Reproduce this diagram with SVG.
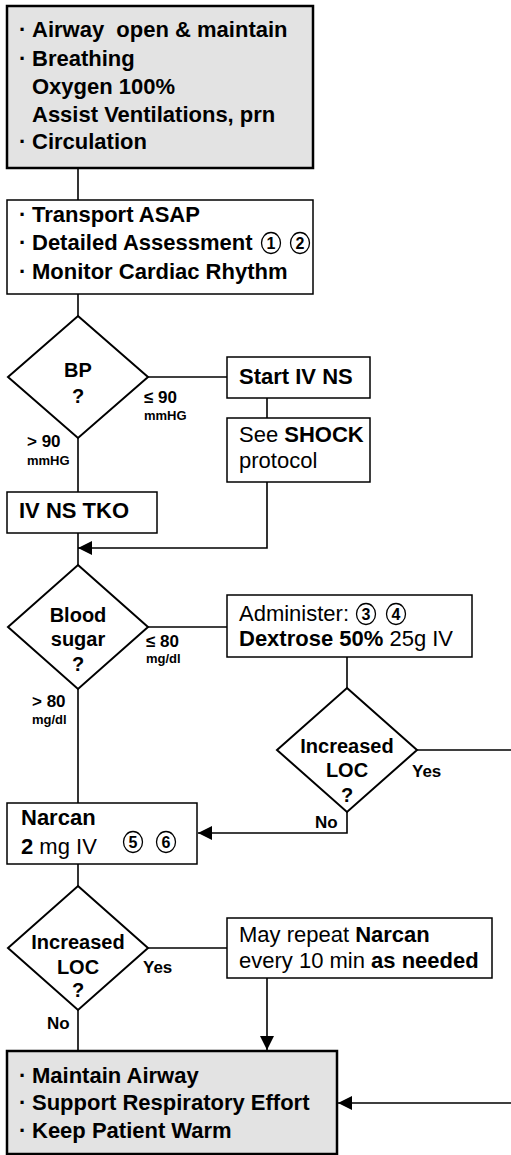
<svg xmlns="http://www.w3.org/2000/svg" width="511" height="1155" viewBox="0 0 511 1155">
<defs>
<marker id="arr" markerUnits="userSpaceOnUse" markerWidth="15" markerHeight="14" refX="14" refY="7" orient="auto">
<path d="M0,0 L14,7 L0,14 z" fill="#000"/>
</marker>
<style>
text{font-family:"Liberation Sans",Arial,sans-serif;fill:#000}
.b{font-weight:bold;font-size:22px}
.r{font-size:22px}
.d{font-weight:bold;font-size:20px;text-anchor:middle}
.l{font-weight:bold;font-size:17px}
.s{font-weight:bold;font-size:13px}
.n{font-weight:bold;font-size:16px;text-anchor:middle}
.gray{fill:#e3e3e3;stroke:#000;stroke-width:2.5}
.box{fill:#fff;stroke:#000;stroke-width:1.5}
.dia{fill:#fff;stroke:#000;stroke-width:2}
.c{fill:#fff;stroke:#000;stroke-width:1.3}
#connectors path,#connectors line{fill:none;stroke:#000;stroke-width:1.6}
</style>
</defs>

<g id="connectors">
<line x1="78" y1="168" x2="78" y2="200"/>
<line x1="78" y1="294" x2="78" y2="316"/>
<line x1="148" y1="377" x2="227" y2="377"/>
<line x1="267" y1="398" x2="267" y2="418"/>
<line x1="78" y1="438" x2="78" y2="492"/>
<line x1="78" y1="533" x2="78" y2="565"/>
<path d="M267,482 V548 H78" marker-end="url(#arr)"/>
<line x1="148" y1="627" x2="227" y2="627"/>
<line x1="347" y1="657" x2="347" y2="688"/>
<line x1="78" y1="689" x2="78" y2="803"/>
<path d="M347,812 V833 H198" marker-end="url(#arr)"/>
<path d="M417,750 H516 V1103 H338" marker-end="url(#arr)"/>
<line x1="78" y1="864" x2="78" y2="886"/>
<line x1="148" y1="948" x2="227" y2="948"/>
<path d="M267,978 V1050" marker-end="url(#arr)"/>
<line x1="78" y1="1010" x2="78" y2="1051"/>
</g>

<g id="primary-survey">
<rect class="gray" x="7" y="6" width="306" height="162"/>
<text class="b" x="19" y="37">·</text><text class="b" x="32" y="37" xml:space="preserve">Airway  open &amp; maintain</text>
<text class="b" x="19" y="66">·</text><text class="b" x="32" y="66">Breathing</text>
<text class="b" x="32" y="94">Oxygen 100%</text>
<text class="b" x="32" y="122">Assist Ventilations, prn</text>
<text class="b" x="19" y="149">·</text><text class="b" x="32" y="149">Circulation</text>
</g>

<g id="transport">
<rect class="box" x="7" y="200" width="306" height="94"/>
<text class="b" x="19" y="222">·</text><text class="b" x="32" y="222">Transport ASAP</text>
<text class="b" x="19" y="250">·</text><text class="b" x="32" y="250">Detailed Assessment</text>
<ellipse class="c" cx="271" cy="243" rx="9.5" ry="10.5"/><text class="n" x="271" y="249">1</text>
<ellipse class="c" cx="300" cy="243" rx="9.5" ry="10.5"/><text class="n" x="300" y="249">2</text>
<text class="b" x="19" y="279">·</text><text class="b" x="32" y="279">Monitor Cardiac Rhythm</text>
</g>

<g id="bp">
<polygon class="dia" points="78,316 148,377 78,438 8,377"/>
<text class="d" x="78" y="377">BP</text>
<text class="d" x="78" y="403">?</text>
</g>
<g id="bp-low-label">
<text class="l" x="144" y="403">≤ 90</text>
<text class="s" x="144" y="420">mmHG</text>
</g>
<g id="bp-high-label">
<text class="l" x="27" y="447">&gt; 90</text>
<text class="s" x="27" y="465">mmHG</text>
</g>

<g id="start-iv">
<rect class="box" x="227" y="357" width="143" height="41"/>
<text class="b" x="239" y="384">Start IV NS</text>
</g>

<g id="shock">
<rect class="box" x="227" y="418" width="143" height="64"/>
<text class="r" x="239" y="442">See <tspan font-weight="bold">SHOCK</tspan></text>
<text class="r" x="239" y="468">protocol</text>
</g>

<g id="iv-tko">
<rect class="box" x="7" y="492" width="150" height="41"/>
<text class="b" x="19" y="518">IV NS TKO</text>
</g>

<g id="blood-sugar">
<polygon class="dia" points="78,565 148,627 78,689 8,627"/>
<text class="d" x="78" y="622">Blood</text>
<text class="d" x="78" y="646">sugar</text>
<text class="d" x="78" y="671">?</text>
</g>
<g id="bs-low-label">
<text class="l" x="146" y="647">≤ 80</text>
<text class="s" x="146" y="663">mg/dl</text>
</g>
<g id="bs-high-label">
<text class="l" x="32" y="707">&gt; 80</text>
<text class="s" x="32" y="724">mg/dl</text>
</g>

<g id="dextrose">
<rect class="box" x="227" y="595" width="245" height="62"/>
<text class="r" x="239" y="621">Administer:</text>
<ellipse class="c" cx="366" cy="614" rx="9.5" ry="10.5"/><text class="n" x="366" y="620">3</text>
<ellipse class="c" cx="396" cy="614" rx="9.5" ry="10.5"/><text class="n" x="396" y="620">4</text>
<text class="r" x="239" y="646"><tspan font-weight="bold">Dextrose 50%</tspan> 25g IV</text>
</g>

<g id="loc1">
<polygon class="dia" points="347,688 417,750 347,812 277,750"/>
<text class="d" x="347" y="753">Increased</text>
<text class="d" x="347" y="777">LOC</text>
<text class="d" x="347" y="802">?</text>
<text class="l" x="412" y="777">Yes</text>
<text class="l" x="315" y="828">No</text>
</g>

<g id="narcan">
<rect class="box" x="7" y="803" width="190" height="61"/>
<text class="b" x="21" y="825">Narcan</text>
<text class="r" x="21" y="854"><tspan font-weight="bold">2</tspan> mg IV</text>
<ellipse class="c" cx="133" cy="842" rx="9.5" ry="10.5"/><text class="n" x="133" y="848">5</text>
<ellipse class="c" cx="166" cy="842" rx="9.5" ry="10.5"/><text class="n" x="166" y="848">6</text>
</g>

<g id="loc2">
<polygon class="dia" points="78,886 148,948 78,1010 8,948"/>
<text class="d" x="78" y="949">Increased</text>
<text class="d" x="78" y="974">LOC</text>
<text class="d" x="78" y="997">?</text>
<text class="l" x="143" y="973">Yes</text>
<text class="l" x="47" y="1029">No</text>
</g>

<g id="repeat-narcan">
<rect class="box" x="227" y="918" width="265" height="60"/>
<text class="r" x="239" y="942">May repeat <tspan font-weight="bold">Narcan</tspan></text>
<text class="r" x="239" y="968">every 10 min <tspan font-weight="bold">as needed</tspan></text>
</g>

<g id="supportive-care">
<rect class="gray" x="7" y="1051" width="330" height="103"/>
<text class="b" x="19" y="1083">·</text><text class="b" x="32" y="1083">Maintain Airway</text>
<text class="b" x="19" y="1110">·</text><text class="b" x="32" y="1110">Support Respiratory Effort</text>
<text class="b" x="19" y="1138">·</text><text class="b" x="32" y="1138">Keep Patient Warm</text>
</g>
</svg>
